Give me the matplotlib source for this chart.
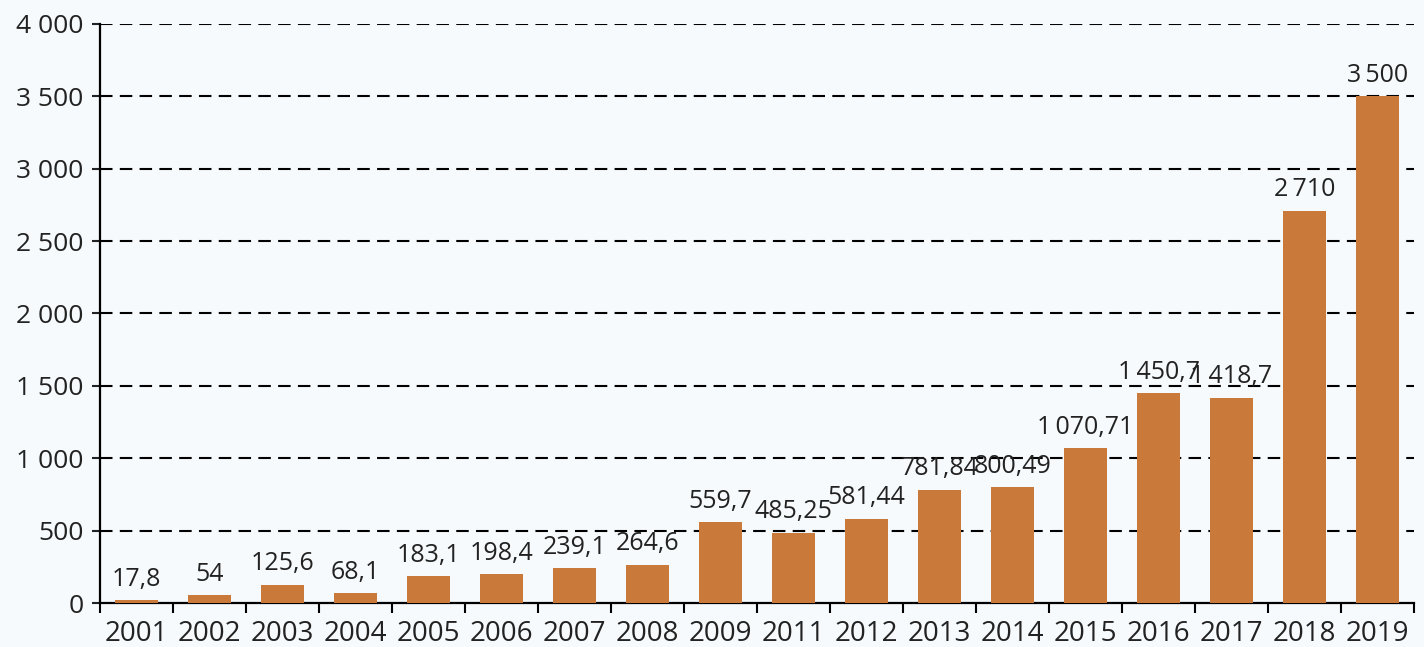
import matplotlib.pyplot as plt
import numpy as np

years = ["2001", "2002", "2003", "2004", "2005", "2006", "2007", "2008", "2009",
         "2011", "2012", "2013", "2014", "2015", "2016", "2017", "2018", "2019"]
values = [17.8, 54, 125.6, 68.1, 183.1, 198.4, 239.1, 264.6, 559.7,
          485.25, 581.44, 781.84, 800.49, 1070.71, 1450.7, 1418.7, 2710, 3500]
labels = ["17,8", "54", "125,6", "68,1", "183,1", "198,4", "239,1", "264,6", "559,7",
          "485,25", "581,44", "781,84", "800,49", "1\u2009070,71", "1\u2009450,7",
          "1\u2009418,7", "2\u2009710", "3\u2009500"]
yticks = [0, 500, 1000, 1500, 2000, 2500, 3000, 3500, 4000]
ytick_labels = ["0", "500", "1 000", "1 500", "2 000", "2 500", "3 000", "3 500", "4 000"]

plt.rcParams['font.family'] = ['Open Sans', 'DejaVu Sans']
bg = '#f6fafc'
bar_color = '#c97a3b'

fig = plt.figure(figsize=(14.24, 6.47), dpi=100, facecolor=bg)
ax = fig.add_axes([0.0702, 0.068, 0.9228, 0.895], facecolor=bg)

x = np.arange(len(years))
ax.bar(x, values, width=0.58, color=bar_color, zorder=3)

for xi, v, lab in zip(x, values, labels):
    ax.annotate(lab, (xi, v), xytext=(0, 6), textcoords='offset points',
                ha='center', va='bottom', fontsize=18, color='#222222', zorder=4)

ax.set_xlim(-0.5, len(years) - 0.5)
ax.set_ylim(0, 4000)
ax.set_yticks(yticks)
ax.set_yticklabels(ytick_labels)
ax.set_xticks(x)
ax.set_xticklabels(years)
ax.set_xticks(np.arange(-0.5, len(years)), minor=True)

ax.tick_params(axis='x', which='major', length=0, pad=12, labelsize=20, colors='#222222')
ax.tick_params(axis='x', which='minor', length=7, width=1.5, direction='out', color='black')
ax.tick_params(axis='y', length=6, width=1.5, direction='out', pad=6, labelsize=19,
               colors='#222222')

for s in ['top', 'right']:
    ax.spines[s].set_visible(False)
for s in ['left', 'bottom']:
    ax.spines[s].set_linewidth(1.6)
    ax.spines[s].set_color('black')

for y in yticks[1:]:
    ax.axhline(y, color='black', linestyle=(0, (6, 3.5)), linewidth=1.5, zorder=2)

fig.savefig("out.png", dpi=100, facecolor=bg)
